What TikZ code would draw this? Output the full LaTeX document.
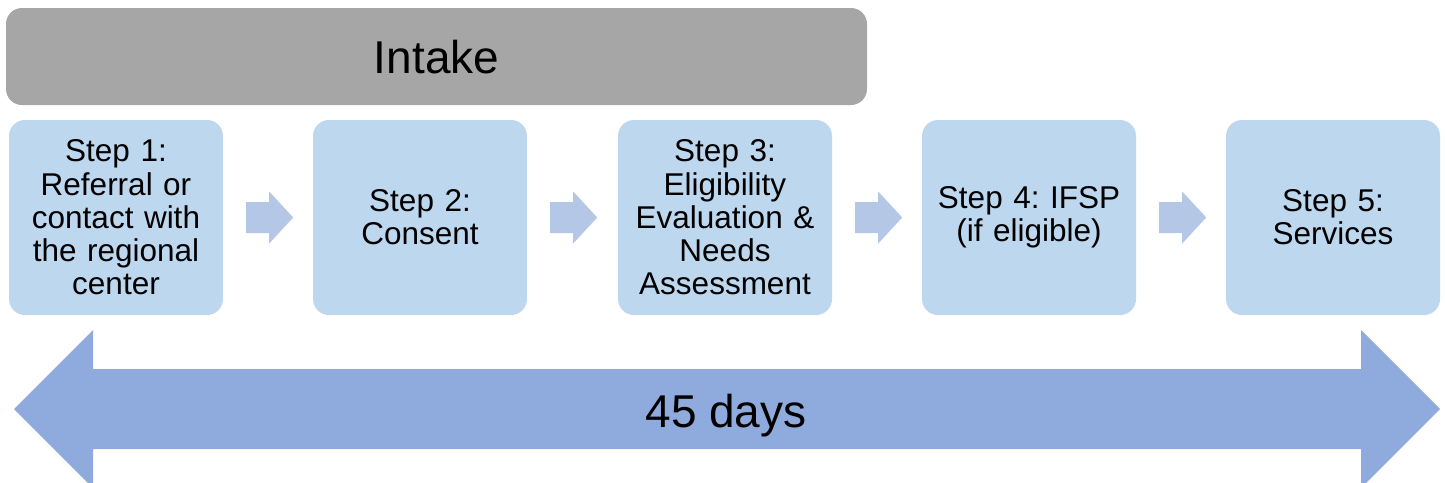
\documentclass[tikz,border=0pt]{standalone}
\usepackage{fontspec}
\setmainfont{Liberation Sans}
\usetikzlibrary{calc}
\frenchspacing
\definecolor{intakegray}{HTML}{A6A6A6}
\definecolor{boxblue}{HTML}{BDD7EE}
\definecolor{smallarrow}{HTML}{B4C7E7}
\definecolor{bigarrow}{HTML}{8FAADC}
\tikzset{
  intakebox/.style={fill=intakegray, draw=none, rounded corners=16pt, minimum width=861pt, minimum height=97pt, inner sep=0pt},
  bigtext/.style={font=\fontsize{46}{50}\selectfont, inner sep=0pt, anchor=base},
  stepbox/.style={fill=boxblue, draw=none, rounded corners=16pt, minimum width=214pt, minimum height=195pt, inner sep=0pt, text width=210pt, align=center, font=\fontsize{31.5}{33.3}\selectfont\frenchspacing},
  smallarr/.style={fill=smallarrow, draw=none},
  bigarr/.style={fill=bigarrow, draw=none}
}
\begin{document}
\begin{tikzpicture}[x=1pt,y=-1pt]
\useasboundingbox (0,0) rectangle (1445,482);
\node[intakebox] (intake) at (436.5,56.5) {};
\node[bigtext] (intaketext) at (436.5,73) {Intake};
\node[stepbox] (s1) at (116,217.5) {Step 1:\\Referral or\\contact with\\the regional\\center};
\node[stepbox] (s2) at (420,217.5) {Step 2:\\Consent};
\node[stepbox] (s3) at (725,217.5) {Step 3:\\Eligibility\\Evaluation \&\\Needs\\Assessment};
\node[stepbox] (s4) at (1029,217.5) {Step 4: IFSP\\(if eligible)};
\node[stepbox] (s5) at (1333,217.5) {Step 5:\\Services};
\foreach \a in {s1,s2,s3,s4}{
  \fill[smallarr] ($(\a.east)+(23,-15.5)$) -- ++(23,0) -- ++(0,-10.5) -- ++(24,26) -- ++(-24,26) -- ++(0,-10.5) -- ++(-23,0) -- cycle;
}
\fill[bigarr] (14,409) -- (93,330) -- (93,369) -- (1361,369) -- (1361,330) -- (1440,409) -- (1361,488) -- (1361,449) -- (93,449) -- (93,488) -- cycle;
\node[bigtext] (days) at (726,427) {45 days};
\end{tikzpicture}
\end{document}
